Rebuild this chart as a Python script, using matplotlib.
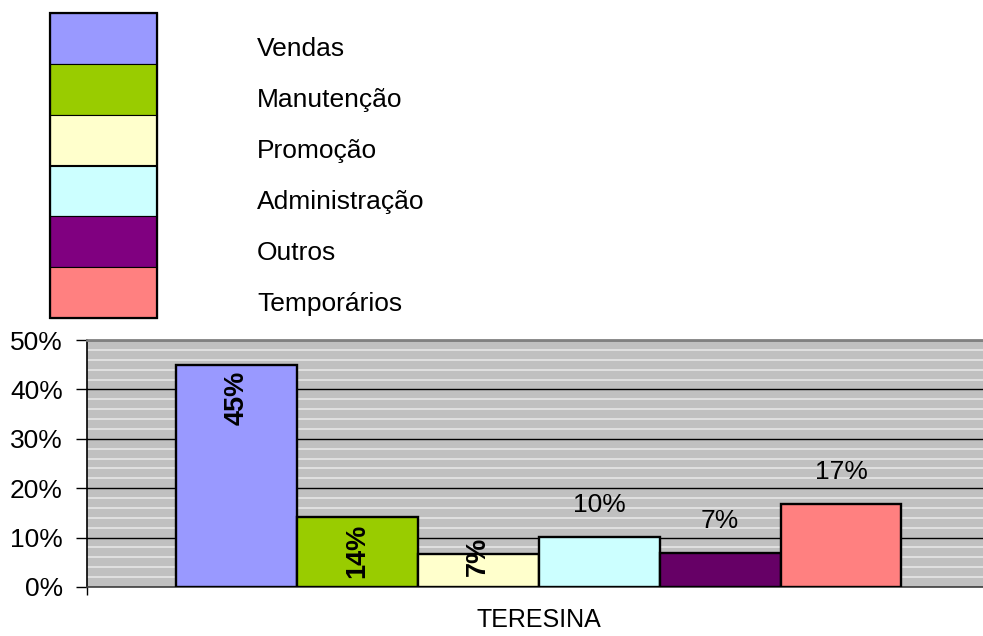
import numpy as np
import matplotlib.pyplot as plt
from matplotlib.patches import Rectangle
from matplotlib.ticker import MultipleLocator, FuncFormatter

plt.rcParams['font.family'] = ['Liberation Sans', 'DejaVu Sans']

categories = ['Vendas', 'Manutenção', 'Promoção', 'Administração', 'Outros', 'Temporários']
values = [45.0, 14.1, 6.7, 10.2, 6.8, 16.9]
labels = ['45%', '14%', '7%', '10%', '7%', '17%']
colors = ['#9999FF', '#99CC00', '#FFFFCC', '#CCFFFF', '#800080', '#FF8080']
bar_colors = ['#9999FF', '#99CC00', '#FFFFCC', '#CCFFFF', '#660066', '#FF8080']
city = 'TERESINA'

W, H = 983, 636
fig = plt.figure(figsize=(W / 100, H / 100), dpi=100)

# main plot, Excel style: gap width 150% -> category spans 7.5 bar widths
ax = fig.add_axes([87 / W, (H - 587) / H, 907 / W, 247 / H])
ax.set_facecolor('#C0C0C0')
ax.set_xlim(0, 7.5)
ax.set_ylim(0, 50)

x = 0.735 + np.arange(len(values)) + 0.5
ax.bar(x, values, width=1.0, color=bar_colors, edgecolor='black', linewidth=1.7, zorder=3)

ax.yaxis.set_major_locator(MultipleLocator(10))
ax.yaxis.set_minor_locator(MultipleLocator(2))
ax.yaxis.set_major_formatter(FuncFormatter(lambda v, p: '%d%%' % v))
ax.grid(which='minor', axis='y', color='#E6E6E6', linewidth=1.2, zorder=1)
ax.grid(which='major', axis='y', color='black', linewidth=1.0, zorder=2)
ax.tick_params(axis='y', which='major', length=8, width=1, pad=9.5, labelsize=19)
ax.tick_params(axis='y', which='minor', length=0)

ax.set_xticks([0])
ax.set_xticklabels([''])
ax.tick_params(axis='x', length=6, width=1)
ax.text(3.735, -0.135, city, transform=ax.get_xaxis_transform(), ha='center', va='center', fontsize=18)

ax.spines['left'].set_color('black')
ax.spines['left'].set_linewidth(1.2)
ax.spines['bottom'].set_color('#404040')
ax.spines['bottom'].set_linewidth(1.2)
ax.spines['top'].set_color('#808080')
ax.spines['top'].set_linewidth(2)
ax.spines['right'].set_visible(False)

# data labels: first three rotated inside, last three horizontal above
for i, (xi, v, lab) in enumerate(zip(x, values, labels)):
    if i < 3:
        ax.text(xi, max(v - 1.2, 10.1), lab, rotation=90, ha='center', va='top',
                fontsize=19.5, fontweight='bold', zorder=4)
    else:
        ax.annotate(lab, (xi, v), xytext=(0, 23), textcoords='offset points',
                    ha='center', va='center', fontsize=19, zorder=4)

# legend as stacked swatches, text sits a little below each swatch centre
lg = fig.add_axes([0, 0, 1, 1])
lg.set_xlim(0, W)
lg.set_ylim(H, 0)
lg.axis('off')
sw_h = 305 / len(categories)
for i, (name, c) in enumerate(zip(categories, colors)):
    y0 = 13 + i * sw_h
    lg.add_patch(Rectangle((50, y0), 107, sw_h, facecolor=c, edgecolor='black', linewidth=0.8))
    lg.text(257, y0 + sw_h / 2 + 11, name, ha='left', va='center', fontsize=19)
lg.add_patch(Rectangle((50, 13), 107, 305, facecolor='none', edgecolor='black', linewidth=1.6))

fig.savefig('out.png', dpi=100)
